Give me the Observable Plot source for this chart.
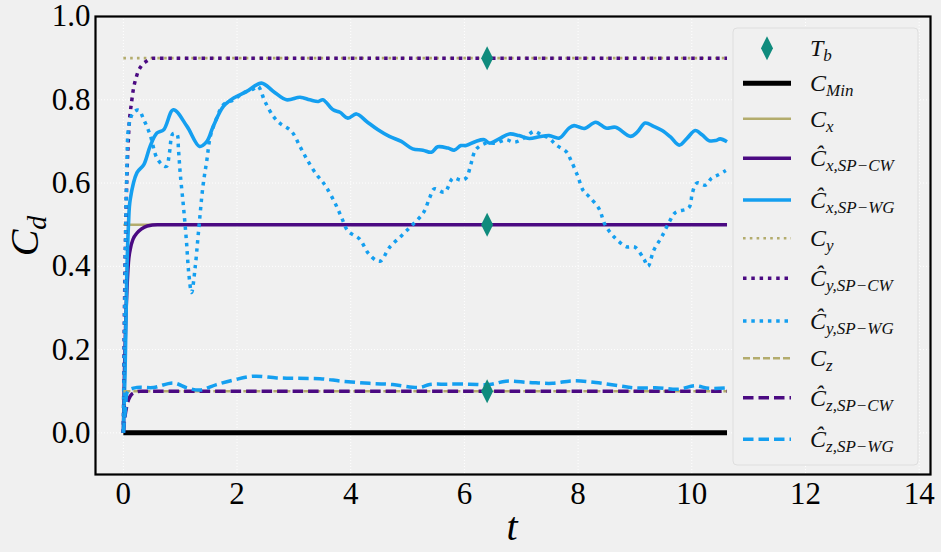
<!DOCTYPE html>
<html><head><meta charset="utf-8">
<script src="https://cdn.jsdelivr.net/npm/d3@7"></script>
<script src="https://cdn.jsdelivr.net/npm/@observablehq/plot@0.6"></script>
<style>
html,body{margin:0;padding:0;background:#f0f0f0;}
svg{display:block;}
</style></head><body><div id="chart"></div>
<script>
// ---------- data ----------
const xTicks = [0, 2, 4, 6, 8, 10, 12, 14];
const yTicks = [0.0, 0.2, 0.4, 0.6, 0.8, 1.0];

const flatT = [0, 10.62];
const cMinV = [0, 0];
const cxV = [0.5, 0.5];
const cyV = [0.9, 0.9];
const czV = [0.1, 0.1];

const cwxT = [0, 0.02, 0.04, 0.065, 0.09, 0.12, 0.17, 0.24, 0.32, 0.42, 0.6, 10.62];
const cwxV = [0, 0.15, 0.26, 0.35, 0.41, 0.44, 0.465, 0.48, 0.49, 0.497, 0.5, 0.5];
const cwyT = [0, 0.02, 0.05, 0.09, 0.15, 0.24, 0.32, 0.4, 0.53, 10.62];
const cwyV = [0, 0.3, 0.55, 0.71, 0.80, 0.86, 0.882, 0.892, 0.9, 0.9];
const cwzT = [0, 0.03, 0.07, 0.12, 0.2, 0.3, 10.62];
const cwzV = [0, 0.04, 0.07, 0.088, 0.097, 0.1, 0.1];

const wgxT = [0,0.03,0.05,0.065,0.09,0.12,0.24,0.36,0.47,0.59,0.71,0.88,1.12,1.34,1.47,1.58,1.76,1.94,2.17,2.43,2.64,2.87,3.11,3.28,3.43,3.51,3.69,3.81,3.95,4.10,4.28,4.48,4.68,4.89,5.09,5.27,5.42,5.53,5.71,5.82,5.94,6.03,6.20,6.35,6.44,6.61,6.79,6.96,7.14,7.32,7.49,7.67,7.84,7.93,8.11,8.31,8.49,8.66,8.92,9.04,9.18,9.33,9.48,9.63,9.78,9.92,10.06,10.18,10.30,10.42,10.50,10.62];
const wgxV = [0,0.15,0.30,0.40,0.5,0.56,0.625,0.644,0.688,0.72,0.728,0.776,0.736,0.688,0.70,0.736,0.784,0.804,0.82,0.84,0.82,0.80,0.806,0.80,0.796,0.80,0.776,0.77,0.756,0.766,0.748,0.728,0.712,0.70,0.682,0.679,0.674,0.687,0.684,0.679,0.69,0.69,0.70,0.704,0.696,0.706,0.718,0.714,0.707,0.711,0.714,0.708,0.732,0.738,0.731,0.746,0.732,0.734,0.712,0.722,0.744,0.736,0.726,0.71,0.691,0.708,0.726,0.716,0.702,0.702,0.706,0.699];

const wgyT = [0,0.03,0.06,0.1,0.18,0.27,0.36,0.47,0.59,0.70,0.76,0.81,0.87,0.94,0.97,1.00,1.06,1.11,1.15,1.20,1.26,1.32,1.40,1.47,1.53,1.63,1.76,1.94,2.11,2.29,2.37,2.49,2.64,2.75,2.96,3.11,3.25,3.40,3.50,3.58,3.72,3.84,3.95,4.16,4.30,4.45,4.53,4.68,4.89,5.09,5.28,5.39,5.47,5.65,5.80,5.94,6.03,6.12,6.20,6.38,6.56,6.73,6.88,7.05,7.23,7.35,7.49,7.61,7.80,7.87,7.99,8.09,8.19,8.37,8.47,8.63,8.85,9.00,9.16,9.23,9.33,9.48,9.61,9.71,9.95,10.01,10.09,10.24,10.35,10.47,10.60];
const wgyV = [0,0.35,0.62,0.74,0.77,0.775,0.752,0.716,0.66,0.642,0.64,0.672,0.718,0.718,0.68,0.624,0.54,0.46,0.385,0.337,0.393,0.48,0.592,0.656,0.712,0.752,0.788,0.80,0.816,0.826,0.832,0.796,0.76,0.744,0.724,0.687,0.652,0.62,0.604,0.588,0.553,0.517,0.485,0.465,0.433,0.414,0.413,0.445,0.473,0.50,0.529,0.565,0.586,0.578,0.612,0.607,0.612,0.648,0.68,0.696,0.696,0.704,0.698,0.708,0.724,0.716,0.708,0.692,0.674,0.656,0.618,0.582,0.568,0.538,0.501,0.471,0.447,0.446,0.417,0.40,0.438,0.473,0.508,0.529,0.541,0.576,0.60,0.595,0.612,0.62,0.63];

const wgzT = [0,0.04,0.08,0.24,0.53,0.88,1.12,1.35,1.64,1.94,2.29,2.70,3.05,3.46,3.86,4.33,4.74,5.21,5.39,5.68,6.09,6.44,6.73,7.14,7.55,7.90,8.31,8.72,9.01,9.42,9.77,10.06,10.30,10.59];
const wgzV = [0,0.06,0.1,0.109,0.109,0.12,0.108,0.103,0.116,0.127,0.136,0.132,0.131,0.130,0.124,0.119,0.116,0.109,0.116,0.117,0.117,0.116,0.124,0.121,0.119,0.125,0.121,0.113,0.108,0.108,0.105,0.113,0.107,0.108];

const tbT = [6.4, 6.4, 6.4];
const tbV = [0.9, 0.5, 0.1];

// ---------- styles ----------
const TEAL = "#0f8b7d", BLUE = "#149ff0", PURPLE = "#4b0a82", OLIVE = "#b3ac6d", BLACK = "#000000";
const FONT = "'Liberation Serif', serif";
const mk = (ts, vs) => ts.map((t, i) => ({t, v: vs[i]}));

const series = [
  {label: ["C", "Min"], data: mk(flatT, cMinV), stroke: BLACK, w: 5, dash: null, curve: "linear"},
  {label: ["C", "x"], data: mk(flatT, cxV), stroke: OLIVE, w: 2.6, dash: null, curve: "linear"},
  {label: ["Ĉ", "x,SP−CW"], data: mk(cwxT, cwxV), stroke: PURPLE, w: 3.5, dash: null, curve: "monotone-x"},
  {label: ["Ĉ", "x,SP−WG"], data: mk(wgxT, wgxV), stroke: BLUE, w: 3.6, dash: null, curve: "catmull-rom"},
  {label: ["C", "y"], data: mk(flatT, cyV), stroke: OLIVE, w: 2.6, dash: "2.6,4.2", curve: "linear"},
  {label: ["Ĉ", "y,SP−CW"], data: mk(cwyT, cwyV), stroke: PURPLE, w: 3.5, dash: "3.5,4.8", curve: "monotone-x"},
  {label: ["Ĉ", "y,SP−WG"], data: mk(wgyT, wgyV), stroke: BLUE, w: 3.5, dash: "3.5,4.8", curve: "catmull-rom"},
  {label: ["C", "z"], data: mk(flatT, czV), stroke: OLIVE, w: 2.6, dash: "7,3", curve: "linear"},
  {label: ["Ĉ", "z,SP−CW"], data: mk(cwzT, cwzV), stroke: PURPLE, w: 3.5, dash: "10.5,5", curve: "monotone-x"},
  {label: ["Ĉ", "z,SP−WG"], data: mk(wgzT, wgzV), stroke: BLUE, w: 3.5, dash: "10.5,5", curve: "catmull-rom"}
];

const thinDiamond = {
  draw(context, size) {
    const r = Math.sqrt(size / Math.PI);
    context.moveTo(0, -r);
    context.lineTo(r * 0.5, 0);
    context.lineTo(0, r);
    context.lineTo(-r * 0.5, 0);
    context.closePath();
  }
};

const lineMarks = series.map(s => Plot.line(s.data, {
  x: "t", y: "v", stroke: s.stroke, strokeWidth: s.w,
  strokeDasharray: s.dash || undefined, strokeLinecap: "butt", strokeLinejoin: "round", curve: s.curve
}));

const plot = Plot.plot({
  width: 941, height: 552,
  marginLeft: 95, marginRight: 11, marginTop: 16, marginBottom: 78,
  style: {background: "#f0f0f0", fontFamily: FONT, fontSize: "31px", color: "black", overflow: "visible"},
  x: {domain: [-0.49, 14.2], ticks: xTicks, tickSize: 0, tickPadding: 7, label: null},
  y: {domain: [-0.1, 1.0], ticks: yTicks, tickSize: 0, tickPadding: 5, tickFormat: d3.format(".1f"), label: null},
  marks: [
    Plot.gridX(xTicks, {stroke: "#ffffff", strokeOpacity: 1, strokeWidth: 1, strokeDasharray: "1,2"}),
    Plot.gridY(yTicks, {stroke: "#ffffff", strokeOpacity: 1, strokeWidth: 1, strokeDasharray: "1,2"}),
    ...lineMarks,
    Plot.dot(mk(tbT, tbV), {x: "t", y: "v", symbol: thinDiamond, r: 12, fill: TEAL, stroke: "none"}),
    Plot.frame({stroke: "black", strokeWidth: 2.2})
  ]
});

const svg = d3.select(plot);

// axis labels
svg.append("text").attr("x", 512).attr("y", 540).attr("text-anchor", "middle")
  .attr("font-family", FONT).attr("font-style", "italic").attr("font-size", 40).text("t");
const yl = svg.append("text").attr("transform", "translate(38,236) rotate(-90)").attr("text-anchor", "middle")
  .attr("font-family", FONT).attr("font-style", "italic").attr("font-size", 40);
yl.append("tspan").text("C");
yl.append("tspan").attr("font-size", 28).attr("dy", 8).text("d");

// legend
const lg = svg.append("g");
lg.append("rect").attr("x", 733).attr("y", 28).attr("width", 185).attr("height", 437).attr("rx", 4)
  .attr("fill", "#f0f0f0").attr("stroke", "#dedede").attr("stroke-width", 1);
const rowsY = [48.3, 83.3, 118.7, 158.3, 200, 238.3, 278.3, 321, 358.3, 397.7, 439.3];
lg.append("path").attr("transform", `translate(767,${rowsY[0]})`)
  .attr("d", d3.symbol(thinDiamond, 12 * 12 * Math.PI)()).attr("fill", TEAL);
function addLabel(y, main, sub) {
  const t = lg.append("text").attr("x", 810).attr("y", y + 8).attr("text-anchor", "start")
    .attr("font-family", FONT).attr("font-style", "italic").attr("font-size", 24).attr("fill", "#111");
  t.append("tspan").text(main);
  t.append("tspan").attr("font-size", 17).attr("dy", 5).text(sub);
}
addLabel(rowsY[0], "T", "b");
series.forEach((s, i) => {
  const y = rowsY[i + 1];
  lg.append("line").attr("x1", 743).attr("x2", 791).attr("y1", y).attr("y2", y)
    .attr("stroke", s.stroke).attr("stroke-width", s.w)
    .attr("stroke-dasharray", s.dash || null).attr("stroke-linecap", "butt");
  addLabel(y, s.label[0], s.label[1]);
});

document.getElementById("chart").appendChild(plot);
</script></body></html>
